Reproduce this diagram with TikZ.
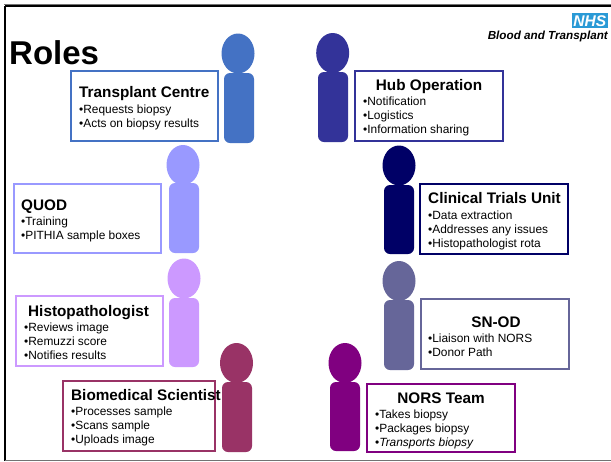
\documentclass[tikz,border=0pt]{standalone}
\usepackage{fontspec}
\setmainfont{Liberation Sans}
\definecolor{ctc}{HTML}{4472C4}
\definecolor{chub}{HTML}{333399}
\definecolor{cquod}{HTML}{9999FF}
\definecolor{cctu}{HTML}{000066}
\definecolor{chis}{HTML}{CC99FF}
\definecolor{csn}{HTML}{666699}
\definecolor{cbio}{HTML}{993366}
\definecolor{cnors}{HTML}{800080}
\definecolor{cnhs}{HTML}{2A9AD6}
\tikzset{
  rolebox/.style={draw=#1,line width=1.6pt,fill=white,inner sep=0pt,outer sep=0pt},
  head/.style={ellipse,fill=#1,inner sep=0pt,outer sep=0pt,minimum width=33pt,minimum height=40pt},
  torso/.style={rectangle,rounded corners=6pt,fill=#1,inner sep=0pt,outer sep=0pt,minimum width=30pt,minimum height=70pt},
  roletitle/.style={inner sep=0pt,font=\fontsize{15.3}{17}\selectfont\bfseries},
  rolelist/.style={inner sep=0pt,align=left,anchor=base west,font=\fontsize{11.9}{14}\selectfont},
}
\usetikzlibrary{shapes.geometric}
\newcommand{\rbox}[6]{\node[rolebox=#2,minimum width=#5pt-#3pt,minimum height=#6pt-#4pt,anchor=north west] (#1) at (#3,#4) {};}
\begin{document}
\begin{tikzpicture}[x=1pt,y=-1pt]
\useasboundingbox (0,0) rectangle (611,461);
\fill[white] (0,0) rectangle (611,461);
% frame
\draw[black!55,line width=1pt] (4,4.5) -- (611,4.5);
\draw[black,line width=2pt] (5,6) -- (611,6);
\draw[black,line width=2.2pt] (5,6) -- (5,461);
\draw[black!55,line width=1pt] (5,460) -- (611,460);
% title and logo
\node[inner sep=0pt,anchor=base west,font=\fontsize{33}{36}\selectfont\bfseries] (title) at (9,64) {Roles};
\node[fill=cnhs,inner sep=0pt,minimum width=36pt,minimum height=15pt,anchor=north east,text=white,font=\fontsize{15.5}{15}\selectfont\bfseries\itshape] (nhs) at (608,13) {NHS};
\node[inner sep=0pt,anchor=base east,font=\fontsize{11.7}{13}\selectfont\bfseries\itshape] (bt) at (608,39) {Blood and Transplant};
% people
\node[head=ctc] (h1) at (238,53.5) {};
\node[torso=ctc,anchor=north] (b1) at (239,73) {};
\node[head=chub] (h2) at (332.7,53) {};
\node[torso=chub,anchor=north] (b2) at (333,72) {};
\node[head=cquod] (h3) at (183,165) {};
\node[torso=cquod,anchor=north] (b3) at (184,183) {};
\node[head=cctu] (h4) at (399,165.5) {};
\node[torso=cctu,anchor=north,minimum height=69pt] (b4) at (399,185) {};
\node[head=chis] (h5) at (184,278.5) {};
\node[torso=chis,anchor=north,minimum height=69pt] (b5) at (184,298) {};
\node[head=csn] (h6) at (399,281) {};
\node[torso=csn,anchor=north] (b6) at (399,300) {};
\node[head=cbio] (h7) at (236.5,363) {};
\node[torso=cbio,anchor=north] (b7) at (237,382) {};
\node[head=cnors] (h8) at (345,363) {};
\node[torso=cnors,anchor=north,minimum height=69pt] (b8) at (345,382) {};
% boxes
\rbox{tc}{ctc}{71}{71}{218}{141}
\rbox{hub}{chub}{355}{71}{503}{141}
\rbox{quod}{cquod}{14}{184}{161}{253}
\rbox{ctu}{cctu}{420}{184}{568}{254}
\rbox{his}{chis}{16}{296}{163}{366}
\rbox{sn}{csn}{421}{299}{569}{369}
\rbox{bio}{cbio}{63}{381}{215}{451}
\rbox{nors}{cnors}{367}{384}{515}{452}
% texts
\node[roletitle,anchor=base west] (tct) at (79,97) {Transplant Centre};
\node[rolelist] (tcl) at (79,127) {•Requests biopsy\\•Acts on biopsy results};
\node[roletitle,anchor=base] (hubt) at (429,90) {Hub Operation};
\node[rolelist] (hubl) at (363,133) {•Notification\\•Logistics\\•Information sharing};
\node[roletitle,anchor=base west] (quodt) at (21,210) {QUOD};
\node[rolelist] (quodl) at (21,239) {•Training\\•PITHIA sample boxes};
\node[roletitle,anchor=base west] (ctut) at (428,203) {Clinical Trials Unit};
\node[rolelist] (ctul) at (428,247) {•Data extraction\\•Addresses any issues\\•Histopathologist rota};
\node[roletitle,anchor=base west] (hist) at (28,316) {Histopathologist};
\node[rolelist] (hisl) at (24,359) {•Reviews image\\•Remuzzi score\\•Notifies results};
\node[roletitle,anchor=base] (snt) at (496,327) {SN-OD};
\node[rolelist] (snl) at (428,356) {•Liaison with NORS\\•Donor Path};
\node[roletitle,anchor=base west] (biot) at (71,400) {Biomedical Scientist};
\node[rolelist] (biol) at (71,443) {•Processes sample\\•Scans sample\\•Uploads image};
\node[roletitle,anchor=base] (norst) at (441,403) {NORS Team};
\node[rolelist] (norsl) at (375,446) {•Takes biopsy\\•Packages biopsy\\•\textit{Transports biopsy}};
\end{tikzpicture}
\end{document}
